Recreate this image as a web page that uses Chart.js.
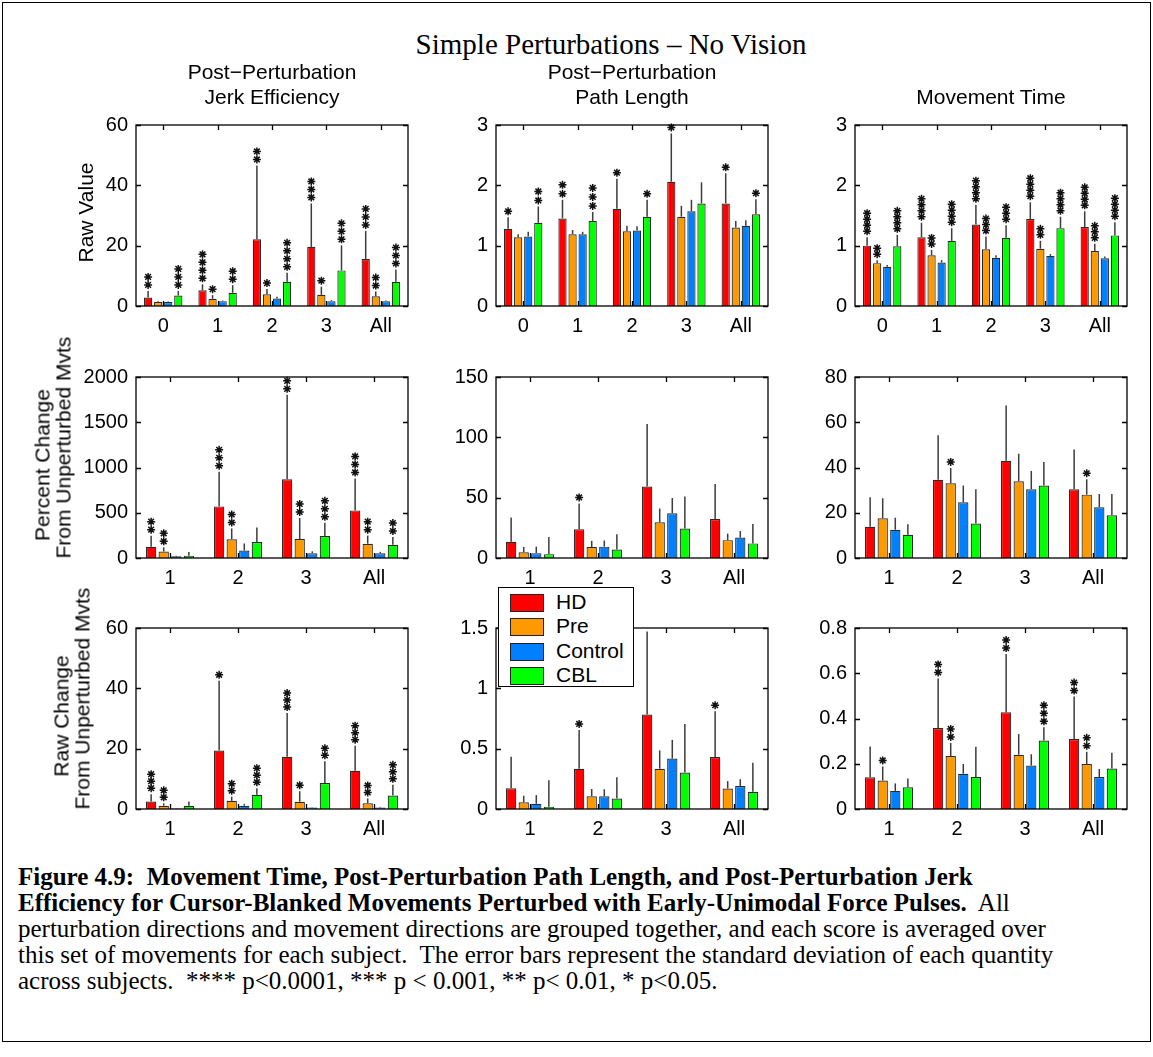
<!DOCTYPE html>
<html>
<head>
<meta charset="utf-8">
<script src="https://cdn.jsdelivr.net/npm/chart.js@4.4.0/dist/chart.umd.min.js"></script>
<style>
  body { margin: 0; background: #fff; }
  #fig { position: relative; width: 1153px; height: 1057px; overflow: hidden; }
  .frame { position: absolute; left: 2px; top: 2px; width: 1147px; height: 1038px; border: 1px solid #000; }
  .title { position: absolute; left: 0; width: 1222px; top: 28px; text-align: center;
           font-family: "Liberation Serif", "Times New Roman", serif; font-size: 29px; }
  .sub { position: absolute; width: 272px; text-align: center; line-height: 25px;
         font-family: "Liberation Sans", Arial, sans-serif; font-size: 21px; }
  .ylab { position: absolute; width: 187px; text-align: center; line-height: 21px;
          font-family: "Liberation Sans", Arial, sans-serif; font-size: 21px;
          transform: rotate(-90deg); white-space: nowrap; }
  .panel { position: absolute; }
  #legend { position: absolute; left: 498px; top: 587px; width: 134px; height: 98px;
            border: 1.5px solid #000; background: #fff;
            font-family: "Liberation Sans", Arial, sans-serif; font-size: 21px; }
  #legend .row { position: absolute; left: 11px; height: 24px; }
  #legend .sw { position: absolute; left: 0; top: 3px; width: 32px; height: 16px; border: 1px solid #222; }
  #legend .tx { position: absolute; left: 46px; top: 0; line-height: 22px; white-space: nowrap; }
  #caption { position: absolute; left: 18px; top: 864px; white-space: nowrap; line-height: 26px;
             font-family: "Liberation Serif", "Times New Roman", serif; font-size: 25px; }
</style>
</head>
<body>
<div id="fig">
  <div class="frame"></div>
  <div class="title">Simple Perturbations – No Vision</div>
  <div id="legend"></div>
  <div id="caption"><b>Figure 4.9:&nbsp; Movement Time, Post-Perturbation Path Length, and Post-Perturbation Jerk<br>Efficiency for Cursor-Blanked Movements Perturbed with Early-Unimodal Force Pulses.</b>&nbsp; All<br>perturbation directions and movement directions are grouped together, and each score is averaged over<br>this set of movements for each subject.&nbsp; The error bars represent the standard deviation of each quantity<br>across subjects.&nbsp; **** p&lt;0.0001, *** p &lt; 0.001, ** p&lt; 0.01, * p&lt;0.05.</div>
</div>
<script>
// groups: HD, Pre, Control, CBL
const groups = ["HD", "Pre", "Control", "CBL"];
const groupColors = ["#ff0000", "#ff9900", "#0080ff", "#00ff00"];

const rawCats = ["0", "1", "2", "3", "All"];
const changeCats = ["1", "2", "3", "All"];

// Post-perturbation jerk efficiency, raw value
const jerkRawMean = [[2.8, 5.2, 22.1, 19.6, 15.6], [1.3, 2.4, 3.9, 3.7, 3.2], [1.3, 1.6, 2.5, 1.6, 1.6], [3.5, 4.4, 8.0, 11.8, 8.0]];
const jerkRawSd = [[2.2, 2.0, 24.5, 14.4, 9.3], [0.3, 1.2, 1.7, 2.7, 1.6], [0.2, 0.2, 0.6, 0.3, 0.2], [1.5, 2.5, 3.0, 8.3, 4.1]];
const jerkRawStars = [[2, 4, 2, 3, 3], [0, 1, 1, 1, 2], [0, 0, 0, 0, 0], [3, 2, 4, 3, 3]];

// Post-perturbation path length, raw value
const pathRawMean = [[1.28, 1.45, 1.61, 2.06, 1.70], [1.14, 1.19, 1.24, 1.48, 1.30], [1.15, 1.19, 1.25, 1.57, 1.33], [1.38, 1.41, 1.48, 1.70, 1.52]];
const pathRawSd = [[0.19, 0.31, 0.50, 0.80, 0.50], [0.05, 0.07, 0.09, 0.18, 0.11], [0.08, 0.04, 0.07, 0.19, 0.09], [0.27, 0.15, 0.28, 0.35, 0.25]];
const pathRawStars = [[1, 2, 1, 1, 1], [0, 0, 0, 0, 0], [0, 0, 0, 0, 0], [2, 3, 1, 0, 1]];

// Movement time, raw value
const mtRawMean = [[1.00, 1.14, 1.35, 1.44, 1.31], [0.71, 0.84, 0.94, 0.95, 0.91], [0.65, 0.72, 0.80, 0.83, 0.79], [0.99, 1.08, 1.13, 1.29, 1.17]];
const mtRawSd = [[0.14, 0.24, 0.33, 0.28, 0.26], [0.05, 0.09, 0.21, 0.13, 0.12], [0.03, 0.04, 0.04, 0.03, 0.03], [0.19, 0.21, 0.21, 0.19, 0.22]];
const mtRawStars = [[4, 4, 4, 4, 4], [2, 2, 3, 2, 3], [0, 0, 0, 0, 0], [4, 4, 3, 4, 4]];

// Percent change from unperturbed movements
const jerkPctMean = [[125, 570, 870, 526], [72, 208, 210, 158], [18, 82, 53, 53], [25, 176, 242, 147]];
const jerkPctSd = [[122, 383, 933, 353], [46, 118, 232, 89], [7, 79, 21, 15], [40, 161, 147, 85]];
const jerkPctStars = [[2, 3, 2, 3], [2, 2, 2, 2], [0, 0, 0, 0], [0, 0, 3, 2]];

const pathPctMean = [[13.4, 23.9, 59.2, 32.3], [4.8, 9.1, 29.6, 14.8], [4.0, 9.4, 37.1, 16.9], [3.2, 7.0, 24.5, 12.1]];
const pathPctSd = [[20.2, 21.3, 51.8, 29.0], [4.3, 5.1, 11.4, 5.4], [5.4, 5.1, 12.6, 5.4], [14.3, 12.6, 26.5, 16.1]];
const pathPctStars = [[0, 1, 0, 0], [0, 0, 0, 0], [0, 0, 0, 0], [0, 0, 0, 0]];

const mtPctMean = [[13.8, 34.6, 43.0, 30.4], [17.6, 33.0, 33.9, 28.0], [12.5, 24.6, 30.4, 22.4], [10.3, 15.2, 32.0, 18.9]];
const mtPctSd = [[13.0, 19.7, 24.4, 17.6], [8.8, 6.8, 12.2, 6.8], [5.3, 7.4, 8.1, 5.9], [4.6, 15.2, 10.4, 9.4]];
const mtPctStars = [[0, 0, 0, 0], [0, 1, 0, 1], [0, 0, 0, 0], [0, 0, 0, 0]];

// Raw change from unperturbed movements
const jerkChgMean = [[2.5, 19.4, 17.3, 12.7], [1.1, 2.7, 2.4, 1.9], [0.2, 1.1, 0.5, 0.5], [1.1, 4.7, 8.6, 4.5]];
const jerkChgSd = [[2.4, 23.1, 14.5, 8.3], [0.8, 1.4, 3.5, 1.6], [0.1, 0.6, 0.1, 0.2], [1.4, 2.2, 7.2, 3.5]];
const jerkChgStars = [[3, 1, 3, 3], [2, 2, 1, 2], [0, 0, 0, 0], [0, 3, 2, 3]];

const pathChgMean = [[0.172, 0.333, 0.783, 0.43], [0.056, 0.105, 0.334, 0.169], [0.043, 0.105, 0.418, 0.19], [0.019, 0.086, 0.302, 0.142]];
const pathChgSd = [[0.26, 0.322, 0.687, 0.38], [0.054, 0.061, 0.152, 0.062], [0.072, 0.059, 0.155, 0.057], [0.22, 0.177, 0.402, 0.242]];
const pathChgStars = [[0, 1, 0, 1], [0, 0, 0, 0], [0, 0, 0, 0], [0, 0, 0, 0]];

const mtChgMean = [[0.140, 0.358, 0.428, 0.309], [0.126, 0.234, 0.240, 0.199], [0.080, 0.156, 0.192, 0.141], [0.096, 0.141, 0.303, 0.179]];
const mtChgSd = [[0.136, 0.219, 0.257, 0.188], [0.062, 0.058, 0.091, 0.054], [0.033, 0.043, 0.05, 0.036], [0.039, 0.134, 0.058, 0.07]];
const mtChgStars = [[0, 2, 2, 2], [1, 2, 0, 2], [0, 0, 0, 0], [0, 0, 3, 0]];

const colLeft = [136, 496, 855];
const rowTop = [119, 371, 622];
const panelW = 272, panelH = 187;

const panels = [
  { r: 0, c: 0, cats: rawCats, mean: jerkRawMean, sd: jerkRawSd, stars: jerkRawStars, max: 60, step: 20, gap: 8, title: ["Post\u2212Perturbation", "Jerk Efficiency"] },
  { r: 0, c: 1, cats: rawCats, mean: pathRawMean, sd: pathRawSd, stars: pathRawStars, max: 3, step: 1, gap: 9, title: ["Post\u2212Perturbation", "Path Length"] },
  { r: 0, c: 2, cats: rawCats, mean: mtRawMean, sd: mtRawSd, stars: mtRawStars, max: 3, step: 1, gap: 6, title: ["Movement Time"] },
  { r: 1, c: 0, cats: changeCats, mean: jerkPctMean, sd: jerkPctSd, stars: jerkPctStars, max: 2000, step: 500, gap: 8 },
  { r: 1, c: 1, cats: changeCats, mean: pathPctMean, sd: pathPctSd, stars: pathPctStars, max: 150, step: 50, gap: 8 },
  { r: 1, c: 2, cats: changeCats, mean: mtPctMean, sd: mtPctSd, stars: mtPctStars, max: 80, step: 20, gap: 8 },
  { r: 2, c: 0, cats: changeCats, mean: jerkChgMean, sd: jerkChgSd, stars: jerkChgStars, max: 60, step: 20, gap: 7 },
  { r: 2, c: 1, cats: changeCats, mean: pathChgMean, sd: pathChgSd, stars: pathChgStars, max: 1.5, step: 0.5, gap: 8 },
  { r: 2, c: 2, cats: changeCats, mean: mtChgMean, sd: mtChgSd, stars: mtChgStars, max: 0.8, step: 0.2, gap: 8 },
];

const yLabels = [
  { lines: ["Raw Value"], cx: 85 },
  { lines: ["Percent Change", "From Unperturbed Mvts"], cx: 52 },
  { lines: ["Raw Change", "From Unperturbed Mvts"], cx: 71 },
];

Chart.defaults.font.family = '"Liberation Sans", Arial, sans-serif';
Chart.defaults.font.size = 20;
Chart.defaults.color = "#000";

function drawStar(ctx, x, y, r) {
  ctx.beginPath();
  for (let k = 0; k < 4; k++) {
    const a = (k * Math.PI) / 4;
    ctx.moveTo(x - r * Math.sin(a), y - r * Math.cos(a));
    ctx.lineTo(x + r * Math.sin(a), y + r * Math.cos(a));
  }
  ctx.stroke();
}

// error bars (upper half only) and significance stars
const errPlugin = {
  id: "err",
  afterDatasetsDraw(chart, args, opts) {
    const ctx = chart.ctx;
    const y = chart.scales.y;
    ctx.save();
    chart.data.datasets.forEach((ds, i) => {
      chart.getDatasetMeta(i).data.forEach((bar, j) => {
        const top = y.getPixelForValue(ds.data[j] + ds.sd[j]);
        ctx.strokeStyle = "#3c3c3c";
        ctx.lineWidth = 1.5;
        ctx.beginPath();
        ctx.moveTo(bar.x, bar.y);
        ctx.lineTo(bar.x, top);
        ctx.stroke();
        ctx.strokeStyle = "#111";
        ctx.lineWidth = 1.5;
        for (let k = 0; k < ds.stars[j]; k++) {
          drawStar(ctx, bar.x, top - 6 - k * opts.gap, 4);
        }
      });
    });
    ctx.restore();
  },
};

// matlab style box with inward ticks on all four sides
const boxPlugin = {
  id: "box",
  afterDraw(chart) {
    const { ctx, chartArea: a, scales } = chart;
    ctx.save();
    ctx.strokeStyle = "#000";
    ctx.lineWidth = 1.3;
    ctx.strokeRect(a.left, a.top, a.right - a.left, a.bottom - a.top);
    ctx.beginPath();
    scales.y.ticks.forEach((tk) => {
      const yy = Math.round(scales.y.getPixelForValue(tk.value)) + 0.5;
      ctx.moveTo(a.left, yy); ctx.lineTo(a.left + 5, yy);
      ctx.moveTo(a.right, yy); ctx.lineTo(a.right - 5, yy);
    });
    chart.data.labels.forEach((l, i) => {
      const xx = Math.round(scales.x.getPixelForValue(i)) + 0.5;
      ctx.moveTo(xx, a.bottom); ctx.lineTo(xx, a.bottom - 5);
      ctx.moveTo(xx, a.top); ctx.lineTo(xx, a.top + 5);
    });
    ctx.stroke();
    ctx.restore();
  },
};

const fig = document.getElementById("fig");
const padL = 62, padT = 14, padR = 14, padB = 40;

panels.forEach((p) => {
  const px = colLeft[p.c], py = rowTop[p.r];
  const box = document.createElement("div");
  box.className = "panel";
  box.style.left = px - padL + "px";
  box.style.top = py - padT + "px";
  const cv = document.createElement("canvas");
  cv.width = panelW + padL + padR;
  cv.height = panelH + padT + padB;
  box.appendChild(cv);
  fig.insertBefore(box, document.getElementById("legend"));

  if (p.title) {
    const t = document.createElement("div");
    t.className = "sub";
    t.style.left = px + "px";
    t.style.top = 109 - 25 * p.title.length + "px";
    t.innerHTML = p.title.join("<br>");
    fig.appendChild(t);
  }

  new Chart(cv, {
    type: "bar",
    data: {
      labels: p.cats,
      datasets: groups.map((g, i) => ({
        label: g,
        data: p.mean[i],
        sd: p.sd[i],
        stars: p.stars[i],
        backgroundColor: groupColors[i],
        borderColor: "#2a2a2a",
        borderWidth: 1.2,
        categoryPercentage: 0.74,
        barPercentage: 0.82,
      })),
    },
    options: {
      responsive: false,
      animation: false,
      devicePixelRatio: 1,
      layout: { padding: { left: 0, top: padT, right: padR, bottom: 0 } },
      plugins: { legend: { display: false }, tooltip: { enabled: false }, err: { gap: p.gap } },
      scales: {
        x: {
          offset: true,
          grid: { display: false, drawTicks: false },
          border: { display: false },
          ticks: { padding: 8, maxRotation: 0, font: { size: 20 } },
          afterFit: (s) => { s.height = padB; },
        },
        y: {
          min: 0,
          max: p.max,
          grid: { display: false, drawTicks: false },
          border: { display: false },
          ticks: { stepSize: p.step, padding: 8, font: { size: 20 }, callback: (v) => String(v) },
          afterFit: (s) => { s.width = padL; },
        },
      },
    },
    plugins: [errPlugin, boxPlugin],
  });
});

yLabels.forEach((yl, r) => {
  const d = document.createElement("div");
  d.className = "ylab";
  d.innerHTML = yl.lines.join("<br>");
  const h = 21 * yl.lines.length;
  d.style.left = yl.cx - panelH / 2 + "px";
  d.style.top = rowTop[r] + panelH / 2 - h / 2 + "px";
  fig.appendChild(d);
});

// legend
const legend = document.getElementById("legend");
groups.forEach((g, i) => {
  const row = document.createElement("div");
  row.className = "row";
  row.style.top = 3 + i * 24.3 + "px";
  row.innerHTML = `<div class="sw" style="background:${groupColors[i]}"></div><div class="tx">${g}</div>`;
  legend.appendChild(row);
});
fig.appendChild(legend);
</script>
</body>
</html>
